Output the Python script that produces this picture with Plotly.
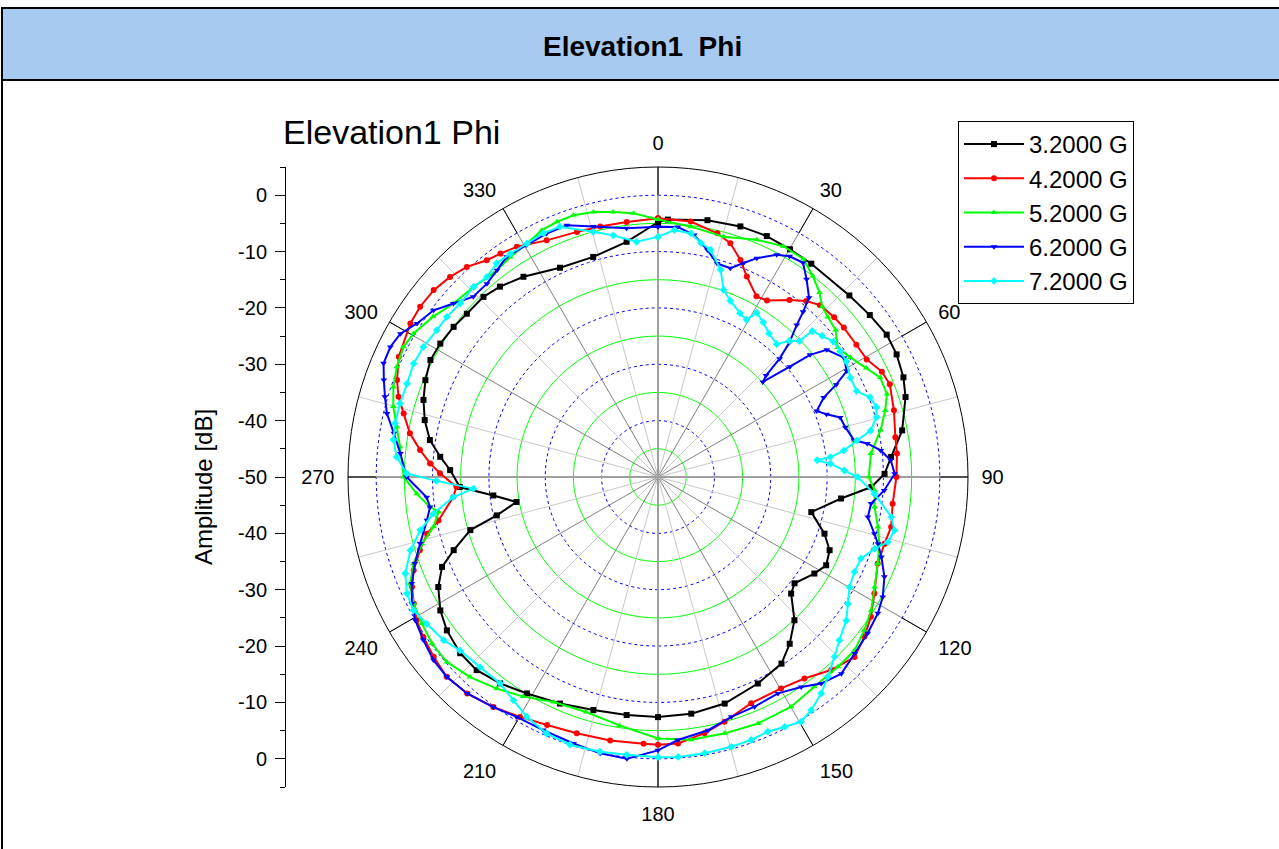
import plotly.graph_objects as go

# ---------------- data ----------------
theta_32 = [0, 2.2, 10.9, 18.2, 24.3, 30.1, 35.7, 46.5, 52.6, 58.1, 62.8, 67.9, 72.1, 79.2, 85.1, 89.2,
            92.7, 96.7, 102.9, 108.8, 113.1, 117.7, 121.7, 127.9, 131.2, 136.4, 141.7, 146.5, 154.2, 163.6, 172, 180,
            187.5, 195.5, 203.4, 211.2, 217.4, 223.2, 228.3, 234, 238.5, 243.4, 247.4, 250.3, 254.2, 256.6, 260, 263.6, 267.1,
            271.9, 275.3, 279.2, 283.7, 288.2, 292.6, 297.2, 301.5, 306.3, 310.5, 315.9, 320.3, 326.1, 334.9, 343.6, 352.4, 360]
r_32 = [-4.8, -4.3, -3.6, -3.2, -3.1, -3.3, -3.4, -3.2, -2.7, -2.2, -2.4, -3.0, -3.85, -5.9, -8.5, -9.8,
        -12.1, -17.3, -22.1, -18.8, -16.9, -16.3, -17.4, -19.3, -18.6, -14.9, -12.3, -10.3, -9.3, -8.1, -7.6, -7.4,
        -7.4, -7.1, -6.2, -5.1, -3.9, -3.0, -3.0, -3.7, -4.7, -6.4, -8.5, -11.5, -15.4, -20.6, -24.5, -20.6, -14.8,
        -13.1, -11.2, -9.0, -7.4, -6.2, -5.3, -4.6, -4.7, -5.0, -5.4, -5.5, -6.1, -7.2, -9.0, -9.3, -7.9, -4.8]

theta_42 = [0, 7.3, 13.7, 17.2, 20.8, 23.9, 28.6, 31.7, 36.6, 40.1, 43.3, 47.8, 51.2, 56.3, 60.6, 64.8, 68.2, 74.2, 80.5, 84.4, 90,
            96.5, 102.1, 106.4, 111.5, 118.3, 123.3, 127.7, 132.5, 138.1, 144, 149.8, 157.6, 164.8, 169.7, 175.7, 180,
            183.1, 190.3, 197.6, 204.1, 209.9, 215.6, 221.4, 226.6, 231.3, 235.7, 239.3, 242.6, 245.9, 249.1, 252.9, 256.2, 258.8, 264.4, 267.2,
            271, 273.4, 276.5, 280, 284, 287.2, 290.4, 294.9, 301.8, 305.6, 309.8, 313.9, 317.7, 321.7, 324.8, 328.5, 334.8, 341.7, 347, 353, 360]
r_42 = [-4.1, -4.3, -5.5, -6.6, -8.8, -11.1, -13.5, -13.2, -10.9, -9.2, -8.1, -7.8, -7.7, -7.7, -7.5, -6.1, -5.7, -6.5, -7.3, -7.4, -7.7,
        -8.1, -7.7, -8.1, -8.1, -6.4, -4.8, -3.7, -2.7, -4.0, -5.8, -6.6, -6.6, -5.0, -3.8, -2.6, -2.5,
        -2.6, -2.5, -2.3, -1.8, -0.9, 0.2, 1.2, 1.6, 1.0, 0.4, -0.2, -1.2, -2.2, -3.6, -5.8, -7.8, -10.3, -13.5, -14.2,
        -11.3, -9.5, -7.5, -5.3, -3.5, -1.8, -0.6, 0.7, 1.7, 1.9, 1.8, 1.2, 0.4, -1.0, -1.5, -2.1, -3.6, -4.2, -4.4, -4.4, -4.1]

theta_52 = [0, 7.5, 15.3, 22.6, 28.5, 33.7, 37.6, 41.2, 43.9, 46.7, 50.4, 54.2, 58.2, 62.4, 65.9, 70.1, 73.7, 78, 83.7, 90,
            93.5, 97.9, 102.8, 106.7, 111.5, 116.9, 122, 126.6, 131.4, 136.5, 143.3, 149.9, 157.9, 165.4, 172.8, 180,
            188.8, 197, 204.9, 211.5, 217.3, 223.2, 228.8, 233.6, 238.2, 242.6, 246.7, 250.5, 254.2, 257.5, 261, 262.5, 266,
            270, 276.7, 280.9, 284.9, 288.8, 292.9, 297.1, 300.4, 305.5, 310.3, 315.9, 321, 326.1, 330.7, 334.8, 338.4, 342.1, 346.3, 350.4, 354.7, 360]
r_52 = [-4.3, -5.2, -5.8, -4.4, -3.4, -3.5, -5.0, -6.5, -8.0, -8.6, -9.1, -10.7, -9.8, -8.3, -6.8, -6.8, -8.0, -9.6, -12.0, -12.6,
        -11.5, -11.2, -10.0, -9.0, -8.1, -6.9, -5.4, -4.4, -3.5, -3.6, -3.6, -2.9, -2.8, -3.0, -3.0, -3.6,
        -5.4, -6.4, -6.0, -4.3, -2.8, -1.3, -0.2, -0.2, -0.7, -1.2, -2.1, -4.0, -6.5, -9.2, -10.6, -9.2, -7.1,
        -4.9, -3.9, -2.8, -1.4, -0.4, 0.3, 0.7, 0.3, -1.0, -2.4, -3.0, -3.6, -3.0, -2.5, -1.6, -1.3, -1.2, -1.6, -2.3, -3.0, -4.3]

theta_62 = [0, 4.5, 8.5, 12.3, 15.5, 19.1, 21.8, 24.3, 28.1, 30.8, 34.1, 36.9, 40.1, 41.3, 42.4, 44.3, 45.8, 46.8, 47.8, 50.1, 51.2, 53,
            57.3, 60.7, 62.6, 64.4, 67.4, 69.6, 71.9, 75.1, 79.4, 80.9, 83.2, 85.9, 89.2,
            93.4, 97.1, 100.8, 104.7, 106.9, 109.7, 113.8, 118.1, 121.8, 126.7, 131.9, 137, 141.7, 145.7, 151, 157.2, 163, 168.8, 175.7, 180,
            186.3, 191.8, 197.6, 204.4, 210.5, 215.6, 221.4, 226.6, 230.8, 235.2, 239.5, 242.8, 246.6, 250.4, 254.4, 259.4, 262.5, 265,
            270, 275.2, 279.4, 283.2, 286.4, 289.5, 292.5, 295.9, 299.1, 302.5, 306.6, 310.3, 314.3, 318.5, 322.1, 325.5, 330.5, 335.4, 340.1, 345.5, 352.8, 360]
r_62 = [-5.6, -5.5, -6.6, -8.8, -10.7, -10.8, -9.1, -7.4, -5.3, -4.4, -4.1, -6.1, -8.4, -11.0, -13.5, -16.6, -19.9, -23.7, -24.9, -19.5, -15.4, -12.5,
        -10.8, -11.6, -14.4, -17.4, -19.5, -18.1, -16.0, -15.6, -14.6, -12.4, -10.2, -8.6, -8.0,
        -9.8, -11.9, -12.1, -10.3, -9.2, -7.9, -6.1, -4.8, -4.1, -3.6, -3.1, -2.3, -3.3, -4.9, -6.1, -5.8, -5.5, -4.2, -3.2, -1.5,
        0.3, 0.1, -0.4, -0.7, -0.6, 0.2, 1.2, 1.6, 1.4, 0.7, 0.0, -0.9, -2.4, -4.2, -6.2, -8.3, -9.2, -8.8,
        -5.4, -4.1, -2.5, -0.6, 0.5, 1.6, 2.7, 2.8, 2.3, 0.7, -0.4, -2.4, -4.2, -4.2, -3.5, -2.6, -2.7, -2.5, -2.5, -4.1, -5.5, -5.6]

theta_72 = [0, 3.8, 7.7, 10.4, 13, 16.8, 19.3, 22.3, 26.6, 29.4, 31, 34.2, 37.7, 41.8, 44, 46.1, 46.6, 49.3, 52.3, 55.4, 58.5,
            62.7, 66.6, 69.4, 72.3, 74.7, 77.7, 79.6, 81.9, 83.4, 84, 85.6, 88, 90,
            94.4, 99.7, 102.7, 105.8, 108.3, 111.9, 115.8, 119.9, 123.7, 127.3, 132, 135.5, 139.6, 143, 146.7, 149.7, 153.1, 156.7, 160.5, 164.8, 170.4, 175.9, 180,
            186.4, 191.9, 198.2, 203.5, 208.7, 212.9, 217.4, 223.1, 228.8, 232.7, 237.6, 241.4, 245.1, 249.1, 253.5, 257.4, 260.7, 264.4, 266.4, 269,
            270.8, 274.4, 278, 281.5, 285.9, 290.4, 294.9, 299, 303.6, 307.2, 311.3, 315.9, 319.5, 322.9, 326.5, 330.7, 334.8, 338.6, 345.2, 349.5, 354.8, 360]
r_72 = [-7.4, -6.1, -6.4, -7.8, -8.6, -11.6, -14.8, -16.2, -17.5, -18.0, -16.0, -16.8, -17.8, -18.4, -16.4, -15.2, -12.3, -11.6, -10.7, -10.7, -10.8,
        -11.6, -11.6, -9.8, -9.3, -9.8, -11.4, -14.1, -16.7, -19.2, -21.6, -19.3, -16.9, -14.6,
        -11.5, -8.0, -7.0, -7.6, -9.5, -11.2, -11.3, -10.8, -9.5, -8.0, -6.7, -5.3, -3.5, -1.9, -0.5, 0.3, -0.3, -0.8, -0.5, -0.4, -0.3, -0.2, -0.3,
        -0.4, -0.2, 0.0, -0.4, -1.5, -2.8, -3.9, -3.8, -3.3, -2.2, -1.4, -0.6, -0.9, -2.0, -4.2, -6.8, -9.6, -13.5, -17.2, -10.7,
        -5.4, -3.5, -2.6, -2.4, -2.4, -2.5, -2.2, -2.4, -2.9, -3.0, -3.3, -3.0, -3.3, -2.5, -2.5, -2.5, -2.2, -2.3, -5.0, -6.4, -8.1, -7.4]

series_names = ["3.2000 G", "4.2000 G", "5.2000 G", "6.2000 G", "7.2000 G"]
series_colors = ["#000000", "#FF0000", "#00FF00", "#0000FF", "#00FFFF"]
series_symbols = ["square", "circle", "triangle-up", "triangle-down", "diamond"]
series_theta = [theta_32, theta_42, theta_52, theta_62, theta_72]
series_r = [r_32, r_42, r_52, r_62, r_72]

angle_ticks = list(range(0, 360, 30))
radial_min, radial_max = -50, 5
green_levels = [-45, -35, -25, -15, -5]
blue_levels = [-40, -30, -20, -10, 0]
minor_angles = list(range(15, 360, 30))
cardinal_angles = [0, 90, 180, 270]
left_tickvals = [-50, -40, -30, -20, -10, 0, 10, 20, 30, 40, 50]
left_ticktext = [str(abs(v) - 50) for v in left_tickvals]
left_minor = [-55, -45, -35, -25, -15, -5, 5, 15, 25, 35, 45, 55]

FONT = "Arial, Liberation Sans, Helvetica, sans-serif"
W, H = 1279, 849
CX, CY, R = 658, 477, 310

fig = go.Figure()

# ---- polar grid decorations ----
circle_theta = list(range(0, 361, 2))
for lv in green_levels:
    fig.add_trace(go.Scatterpolar(r=[lv] * len(circle_theta), theta=circle_theta, mode="lines",
                                  line=dict(color="#00FF00", width=1), showlegend=False, hoverinfo="skip"))
for lv in blue_levels:
    fig.add_trace(go.Scatterpolar(r=[lv] * len(circle_theta), theta=circle_theta, mode="lines",
                                  line=dict(color="#0000FF", width=1, dash="dot"), showlegend=False, hoverinfo="skip"))
for a in minor_angles:
    fig.add_trace(go.Scatterpolar(r=[radial_min, radial_max], theta=[a, a], mode="lines",
                                  line=dict(color="#C8C8C8", width=1), showlegend=False, hoverinfo="skip"))
for a in cardinal_angles:
    fig.add_trace(go.Scatterpolar(r=[radial_min, radial_max], theta=[a, a], mode="lines",
                                  line=dict(color="#A0A0A0", width=2), showlegend=False, hoverinfo="skip"))
for a in angle_ticks:
    fig.add_trace(go.Scatterpolar(r=[0, radial_max], theta=[a, a], mode="lines",
                                  line=dict(color="#000000", width=1), showlegend=False, hoverinfo="skip"))

# ---- data series ----
for name, col, sym, th, rr in zip(series_names, series_colors, series_symbols, series_theta, series_r):
    fig.add_trace(go.Scatterpolar(r=rr, theta=th, mode="lines+markers", name=name,
                                  line=dict(color=col, width=2),
                                  marker=dict(color=col, symbol=sym, size=6, line=dict(width=0))))

# ---- helper for the left amplitude axis ----
fig.add_trace(go.Scatter(x=[0.5], y=[0], mode="lines", showlegend=False, hoverinfo="skip",
                         xaxis="x", yaxis="y"))

py0 = (H - CY - R) / H
py1 = (H - CY + R) / H

fig.update_layout(
    width=W, height=H,
    margin=dict(l=0, r=0, t=0, b=0),
    paper_bgcolor="white", plot_bgcolor="rgba(0,0,0,0)",
    font=dict(family=FONT, color="black"),
    polar=dict(
        domain=dict(x=[(CX - R) / W, (CX + R) / W], y=[py0, py1]),
        bgcolor="white",
        angularaxis=dict(rotation=90, direction="clockwise", tickmode="array",
                         tickvals=angle_ticks, ticktext=[str(a) for a in angle_ticks],
                         tickfont=dict(size=20, family=FONT, color="black"),
                         showline=True, linecolor="black", linewidth=1,
                         showgrid=True, gridcolor="#808080", gridwidth=1,
                         ticks="outside", ticklen=9, tickcolor="rgba(0,0,0,0)"),
        radialaxis=dict(range=[radial_min, radial_max], showgrid=False, showline=False,
                        showticklabels=False, ticks=""),
    ),
    xaxis=dict(domain=[286 / W, 287 / W], range=[0, 1], visible=False, fixedrange=True),
    yaxis=dict(domain=[py0, py1], range=[-55, 55], anchor="x", side="left",
               showline=True, linecolor="black", linewidth=1, showgrid=False, zeroline=False,
               ticks="outside", ticklen=10, tickcolor="black", tickwidth=1,
               tickmode="array", tickvals=left_tickvals, ticktext=left_ticktext,
               tickfont=dict(size=20, family=FONT, color="black"), ticklabelstandoff=4,
               minor=dict(tickvals=left_minor, ticks="outside", ticklen=5, tickcolor="black"),
               fixedrange=True),
    legend=dict(x=958 / W, y=1 - 121 / H, xanchor="left", yanchor="top",
                bordercolor="black", borderwidth=1, bgcolor="white",
                font=dict(size=24, family=FONT, color="black"), itemwidth=60, tracegroupgap=0),
    showlegend=True,
    shapes=[
        dict(type="rect", xref="paper", yref="paper", x0=2 / W, x1=1.01, y0=1 - 80 / H, y1=1 - 8 / H,
             fillcolor="#A8CAF0", line=dict(color="black", width=2), layer="below"),
        dict(type="line", xref="paper", yref="paper", x0=2 / W, x1=2 / W, y0=0, y1=1 - 8 / H,
             line=dict(color="black", width=2)),
    ],
    annotations=[
        dict(text="<b>Elevation1 \u00a0Phi</b>", x=642 / W, y=1 - 47 / H, xref="paper", yref="paper",
             showarrow=False, xanchor="center", yanchor="middle",
             font=dict(size=28, family=FONT, color="black")),
        dict(text="Elevation1 Phi", x=281 / W, y=1 - 132 / H, xref="paper", yref="paper",
             showarrow=False, xanchor="left", yanchor="middle",
             font=dict(size=34, family=FONT, color="black")),
        dict(text="Amplitude [dB]", x=203 / W, y=1 - 487 / H, xref="paper", yref="paper",
             showarrow=False, xanchor="center", yanchor="middle", textangle=-90,
             font=dict(size=24, family=FONT, color="black")),
    ],
)

fig.write_html("out.html", config={"displayModeBar": False},
               post_script="document.body.style.margin='0';document.body.style.overflow='hidden';")
